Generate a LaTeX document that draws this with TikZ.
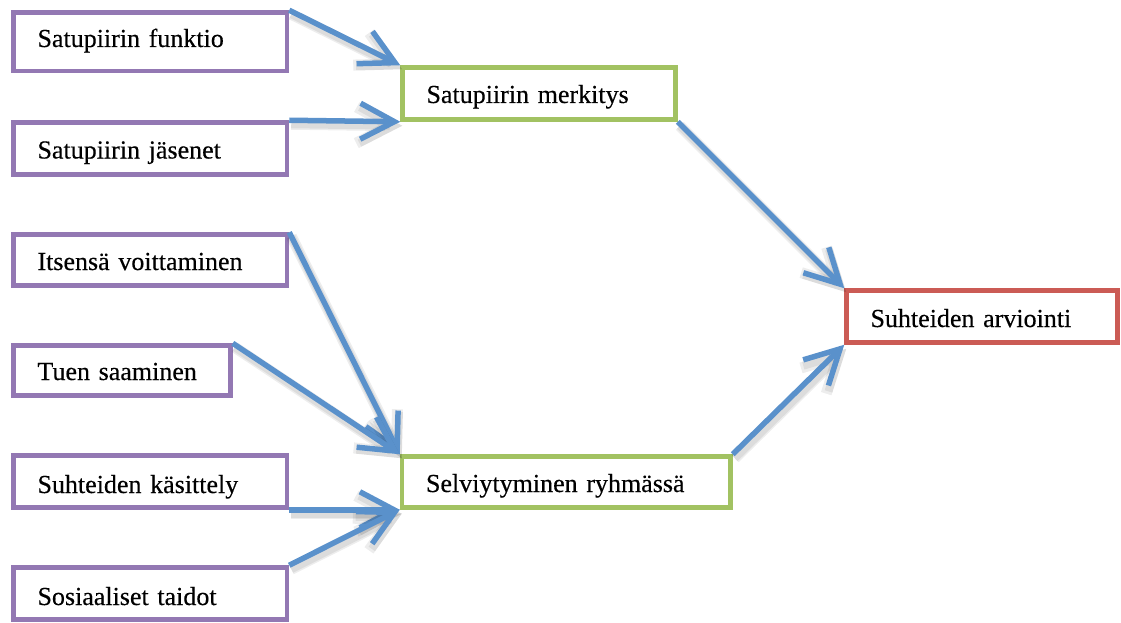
\documentclass[tikz,border=0pt]{standalone}
\usepackage{fontspec}
\setmainfont{Liberation Serif}
\newfontfamily\boxfont{Liberation Serif}[FakeBold=0.35]
\usetikzlibrary{arrows.meta}

\definecolor{boxpurple}{HTML}{9378B3}
\definecolor{boxgreen}{HTML}{A2C262}
\definecolor{boxred}{HTML}{CB5B55}
\definecolor{linkblue}{HTML}{5A91CB}

\tikzset{
  box/.style={draw, line width=4.5pt, fill=white, anchor=north west,
    inner xsep=24pt, inner ysep=0pt, align=left,
    text height=36pt, text depth=16pt,
    font=\boxfont\fontsize{26}{30}\selectfont},
  inbox/.style={box, draw=boxpurple},
  midbox/.style={box, draw=boxgreen},
  outbox/.style={box, draw=boxred},
  conn/.style={draw=linkblue, line width=5.5pt,
    -{Straight Barb[length=34pt,width=36pt]}},
  connshade/.style={draw=black, line width=#1, opacity=0.07,
    transform canvas={shift={(2pt,-4pt)}},
    -{Straight Barb[length=34pt,width=36pt]}},
}

% connector with a soft drop shadow underneath
\newcommand\linkarrow[2]{%
  \draw[connshade=11pt] (#1) -- (#2);
  \draw[connshade=8pt] (#1) -- (#2);
  \draw[conn] (#1) -- (#2);}

\begin{document}
\begin{tikzpicture}[x=1pt, y=-1pt]
  \useasboundingbox (0,0) rectangle (1121,623);

  % left column
  \node[inbox, text width=225.5pt, text height=34.5pt, text depth=24pt]
    (f1) at (11.25,10.25) {Satupiirin funktio};
  \node[inbox, text width=225.5pt] (f2) at (11.25,120.25) {Satupiirin jäsenet};
  \node[inbox, text width=225.5pt, text height=35.5pt, text depth=15.5pt]
    (it) at (11.25,232.25) {Itsensä voittaminen};
  \node[inbox, text width=169pt, text height=34.5pt, text depth=15.5pt]
    (tu) at (11.25,343.25) {Tuen saaminen};
  \node[inbox, text width=225.5pt, text height=37.5pt, text depth=14.5pt]
    (ka) at (11.25,453.25) {Suhteiden käsittely};
  \node[inbox, text width=225.5pt, text height=37.5pt, text depth=14.5pt]
    (so) at (11.25,565.25) {Sosiaaliset taidot};

  % middle column
  \node[midbox, text width=225pt, text height=35.5pt, text depth=16.5pt]
    (me) at (400.25,65.25) {Satupiirin merkitys};
  \node[midbox, text width=280.5pt, text height=35.5pt, text depth=15.5pt]
    (se) at (399.75,454.25) {Selviytyminen ryhmässä};

  % result
  \node[outbox, text width=223pt, text height=36.5pt, text depth=15.5pt]
    (ar) at (844.25,288.25) {Suhteiden arviointi};

  % connectors
  \linkarrow{f1.north east}{me.north west}
  \linkarrow{f2.north east}{me.south west}
  \linkarrow{it.north east}{se.north west}
  \linkarrow{tu.north east}{se.north west}
  \linkarrow{ka.south east}{se.south west}
  \linkarrow{so.north east}{se.south west}
  \linkarrow{me.south east}{ar.north west}
  \linkarrow{se.north east}{ar.south west}
\end{tikzpicture}
\end{document}
